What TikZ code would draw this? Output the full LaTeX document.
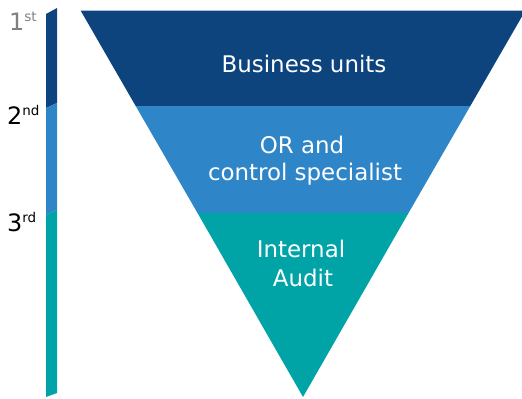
\documentclass[tikz,border=0pt]{standalone}
\usepackage{fontspec}
\setmainfont{DejaVu Sans}
\definecolor{navy}{RGB}{14,68,126}
\definecolor{midblue}{RGB}{46,134,200}
\definecolor{tealband}{RGB}{0,164,166}
\definecolor{lvlgrey}{RGB}{128,128,128}
\newcommand{\lvlsup}[1]{\raisebox{0.34em}{\fontsize{13.5}{14}\selectfont #1}}
\tikzset{
  bandtext/.style={text=white, font=\fontsize{23}{28}\selectfont, align=center, inner sep=0pt, anchor=base},
  lvl/.style={font=\fontsize{24}{28}\selectfont, anchor=base west, inner sep=0pt},
}
\begin{document}
\begin{tikzpicture}[x=1bp,y=-1bp]
\useasboundingbox (0,0) rectangle (522,398);
\clip (0,0) rectangle (522,398);
% inverted triangle bands
\fill[navy] (80.7,10.7) -- (525.3,10.7) -- (470.3,106) -- (135.7,106) -- cycle;
\fill[midblue] (135.7,106) -- (470.3,106) -- (408.5,213) -- (197.5,213) -- cycle;
\fill[tealband] (197.5,213) -- (408.5,213) -- (303,397) -- cycle;
% left bar
\fill[navy] (46,14) -- (57,8) -- (57,103) -- (46,108) -- cycle;
\fill[midblue] (46,108) -- (57,103) -- (57,210) -- (46,215) -- cycle;
\fill[tealband] (46,215) -- (57,210) -- (57,393) -- (46,397) -- cycle;
% band labels
\node[bandtext] (bu) at (304,72) {Business units};
\node[bandtext] (or1) at (302,153) {OR and};
\node[bandtext] (or2) at (305,180.5) {control specialist};
\node[bandtext] (ia1) at (301,257) {Internal};
\node[bandtext] (ia2) at (303,286) {Audit};
% level labels
\node[lvl, text=lvlgrey] (l1) at (9,30) {1\lvlsup{st}};
\node[lvl, text=black] (l2) at (7,124) {2\lvlsup{nd}};
\node[lvl, text=black] (l3) at (7,231) {3\lvlsup{rd}};
\end{tikzpicture}
\end{document}
